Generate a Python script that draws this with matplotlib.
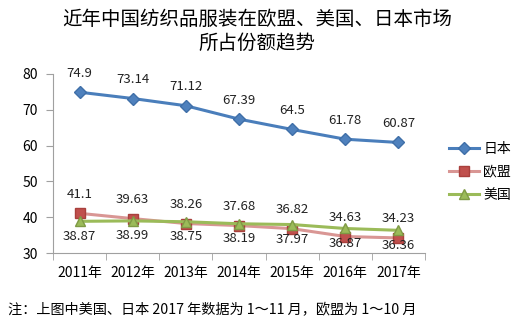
import matplotlib.pyplot as plt

plt.rcParams['font.family'] = ['Noto Sans CJK SC', 'DejaVu Sans']

years = ["2011年", "2012年", "2013年", "2014年", "2015年", "2016年", "2017年"]
japan = [74.9, 73.14, 71.12, 67.39, 64.5, 61.78, 60.87]
eu = [41.1, 39.63, 38.26, 37.68, 36.82, 34.63, 34.23]
usa = [38.87, 38.99, 38.75, 38.19, 37.97, 36.87, 36.36]

fig = plt.figure(figsize=(5.14, 3.30), dpi=100)
ax = fig.add_axes([0.103, 0.233, 0.724, 0.543])

xs = list(range(len(years)))
ax.plot(xs, japan, color="#4A7EBB", lw=2.2, marker="D", ms=6,
        mfc="#4F81BD", mec="#3F6FA8", label="日本", zorder=3)
ax.plot(xs, eu, color="#D99694", lw=2.2, marker="s", ms=7,
        mfc="#C0504D", mec="#A9403D", label="欧盟", zorder=3)
ax.plot(xs, usa, color="#9BBB59", lw=2.2, marker="^", ms=7,
        mfc="#9BBB59", mec="#7F9A45", label="美国", zorder=4)

# 标签：日本、欧盟在点上方，美国在点下方
for x, v in zip(xs, japan):
    ax.annotate(f"{v:g}", (x, v), xytext=(0, 9), textcoords="offset points",
                ha="center", va="bottom", fontsize=9.5, color="#222222")
for x, v in zip(xs, eu):
    ax.annotate(f"{v:g}", (x, v), xytext=(0, 9), textcoords="offset points",
                ha="center", va="bottom", fontsize=9.5, color="#222222")
for x, v in zip(xs, usa):
    ax.annotate(f"{v:g}", (x, v), xytext=(0, -6), textcoords="offset points",
                ha="center", va="top", fontsize=9.5, color="#222222")

ax.set_xlim(-0.5, len(years) - 0.5)
ax.set_ylim(30, 80)
ax.set_yticks([30, 40, 50, 60, 70, 80])
ax.set_xticks(xs)
ax.set_xticklabels(years)
ax.set_xticks([i - 0.5 for i in range(len(years) + 1)], minor=True)
ax.tick_params(axis="x", which="major", length=0, pad=9, labelsize=10)
ax.tick_params(axis="x", which="minor", length=5, color="#A0A0A0")
ax.tick_params(axis="y", length=5, color="#A0A0A0", labelsize=10, pad=6)

for s in ["top", "right"]:
    ax.spines[s].set_visible(False)
for s in ["left", "bottom"]:
    ax.spines[s].set_color("#A0A0A0")

ax.legend(loc="center left", bbox_to_anchor=(1.03, 0.455), frameon=False,
          fontsize=10, handlelength=2.2, labelspacing=0.65, handletextpad=0.3)

fig.text(0.5, 0.94, "近年中国纺织品服装在欧盟、美国、日本市场", ha="center",
         va="center", fontsize=14)
fig.text(0.5, 0.868, "所占份额趋势", ha="center", va="center", fontsize=14)
fig.text(0.015, 0.06, "注：上图中美国、日本 2017 年数据为 1～11 月，欧盟为 1～10 月",
         ha="left", va="center", fontsize=10.2)

fig.savefig("out.png", dpi=100)
